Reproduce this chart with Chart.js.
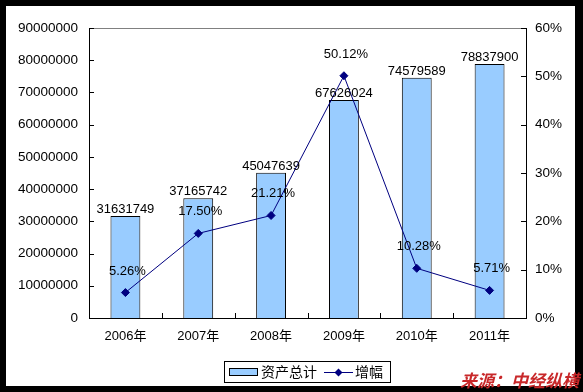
<!DOCTYPE html>
<html>
<head>
<meta charset="utf-8">
<script src="https://cdn.jsdelivr.net/npm/chart.js@4.4.0/dist/chart.umd.min.js"></script>
<style>
  html, body { margin: 0; padding: 0; background: #000; }
  canvas { display: block; }
</style>
</head>
<body>
<canvas id="chart" width="583" height="392"></canvas>
<script>
// chart data
const years = ['2006年', '2007年', '2008年', '2009年', '2010年', '2011年'];
const totalAssets = [31631749, 37165742, 45047639, 67626024, 74579589, 78837900];
const growthRate = [5.26, 17.50, 21.21, 50.12, 10.28, 5.71];

const LATIN = '"Liberation Sans", Arial, sans-serif';
const CJK = '"Liberation Sans", "Noto Sans CJK SC", sans-serif';

// white panel with black frame, grey top line, inner tick marks
const framePlugin = {
  id: 'frame',
  beforeDraw(chart) {
    const ctx = chart.ctx;
    ctx.save();
    ctx.fillStyle = '#000';
    ctx.fillRect(0, 0, chart.width, chart.height);
    ctx.fillStyle = '#fff';
    ctx.fillRect(6, 6, 569, 380);
    ctx.restore();
  },
  afterDraw(chart) {
    const ctx = chart.ctx;
    const area = chart.chartArea;
    const { x, y, y1 } = chart.scales;
    ctx.save();
    ctx.strokeStyle = '#808080';
    ctx.lineWidth = 1;
    ctx.beginPath();
    ctx.moveTo(area.left, area.top + 0.5);
    ctx.lineTo(area.right, area.top + 0.5);
    ctx.stroke();

    ctx.strokeStyle = '#000';
    ctx.beginPath();
    y.ticks.forEach(t => {
      const py = Math.round(y.getPixelForValue(t.value)) + 0.5;
      ctx.moveTo(area.left, py);
      ctx.lineTo(area.left + 5, py);
    });
    y1.ticks.forEach(t => {
      const py = Math.round(y1.getPixelForValue(t.value)) + 0.5;
      ctx.moveTo(area.right - 5, py);
      ctx.lineTo(area.right, py);
    });
    const half = (x.getPixelForValue(1) - x.getPixelForValue(0)) / 2;
    for (let i = 1; i < years.length; i++) {
      const px = Math.round(x.getPixelForValue(i) - half) + 0.5;
      ctx.moveTo(px, area.bottom);
      ctx.lineTo(px, area.bottom - 5);
    }
    ctx.stroke();
    ctx.restore();
  }
};

// value labels for bars and line points
const labelPlugin = {
  id: 'valueLabels',
  afterDatasetsDraw(chart) {
    const ctx = chart.ctx;
    ctx.save();
    ctx.fillStyle = '#000';
    ctx.textAlign = 'center';
    ctx.textBaseline = 'alphabetic';
    ctx.font = '13px ' + LATIN;
    chart.getDatasetMeta(1).data.forEach((bar, i) => {
      ctx.fillText(String(totalAssets[i]), bar.x, bar.y - 3);
    });
    chart.getDatasetMeta(0).data.forEach((pt, i) => {
      ctx.fillText(growthRate[i].toFixed(2) + '%', pt.x + 2, pt.y - 18);
    });
    ctx.restore();
  }
};

// boxed legend and source note
const legendPlugin = {
  id: 'boxLegend',
  afterDraw(chart) {
    const ctx = chart.ctx;
    ctx.save();
    ctx.strokeStyle = '#000';
    ctx.lineWidth = 1;
    ctx.strokeRect(224.5, 361.5, 166, 21);

    ctx.fillStyle = '#99CCFF';
    ctx.fillRect(229, 368, 29, 8);
    ctx.strokeRect(229.5, 368.5, 28, 7);

    ctx.fillStyle = '#000';
    ctx.font = '14px "Noto Sans CJK SC", sans-serif';
    ctx.textBaseline = 'middle';
    ctx.fillText('资产总计', 261, 372);

    ctx.strokeStyle = '#000080';
    ctx.beginPath();
    ctx.moveTo(324, 372.5);
    ctx.lineTo(353, 372.5);
    ctx.stroke();
    ctx.fillStyle = '#000080';
    ctx.beginPath();
    ctx.moveTo(338.5, 368.5);
    ctx.lineTo(342.5, 372.5);
    ctx.lineTo(338.5, 376.5);
    ctx.lineTo(334.5, 372.5);
    ctx.closePath();
    ctx.fill();

    ctx.fillStyle = '#000';
    ctx.fillText('增幅', 355, 372);

    ctx.fillStyle = '#C8282A';
    ctx.font = 'italic bold 17px "Noto Sans CJK SC", sans-serif';
    ctx.textBaseline = 'alphabetic';
    ctx.fillText('来源：中经纵横', 460, 387);
    ctx.restore();
  }
};

new Chart(document.getElementById('chart'), {
  data: {
    labels: years,
    datasets: [
      {
        type: 'line',
        label: '增幅',
        data: growthRate,
        yAxisID: 'y1',
        borderColor: '#000080',
        borderWidth: 1,
        backgroundColor: '#000080',
        pointStyle: 'rectRot',
        pointRadius: 4,
        pointBackgroundColor: '#000080',
        pointBorderColor: '#000080',
        tension: 0,
        order: 0
      },
      {
        type: 'bar',
        label: '资产总计',
        data: totalAssets,
        yAxisID: 'y',
        backgroundColor: '#99CCFF',
        borderColor: '#000',
        borderWidth: 1,
        barPercentage: 0.41,
        categoryPercentage: 1,
        order: 1
      }
    ]
  },
  options: {
    responsive: false,
    animation: false,
    devicePixelRatio: 1,
    layout: { padding: { top: 28, left: 0, right: 0, bottom: 0 } },
    plugins: {
      legend: { display: false },
      tooltip: { enabled: false }
    },
    scales: {
      x: {
        offset: true,
        grid: { display: false, drawTicks: false },
        border: { display: true, color: '#000', width: 1 },
        ticks: { color: '#000', padding: 11, font: { family: CJK, size: 13 } },
        afterFit(scale) { scale.height = 74; }
      },
      y: {
        position: 'left',
        min: 0,
        max: 90000000,
        grid: { display: false, drawTicks: false },
        border: { display: true, color: '#000', width: 1 },
        ticks: {
          stepSize: 10000000,
          color: '#000',
          padding: 11,
          font: { family: LATIN, size: 13.5 },
          callback: v => String(v)
        },
        afterFit(scale) { scale.width = 89; }
      },
      y1: {
        position: 'right',
        min: 0,
        max: 60,
        grid: { display: false, drawTicks: false },
        border: { display: true, color: '#000', width: 1 },
        ticks: {
          stepSize: 10,
          color: '#000',
          padding: 9,
          font: { family: LATIN, size: 13.5 },
          callback: v => v + '%'
        },
        afterFit(scale) { scale.width = 57; }
      }
    }
  },
  plugins: [framePlugin, labelPlugin, legendPlugin]
});
</script>
</body>
</html>
